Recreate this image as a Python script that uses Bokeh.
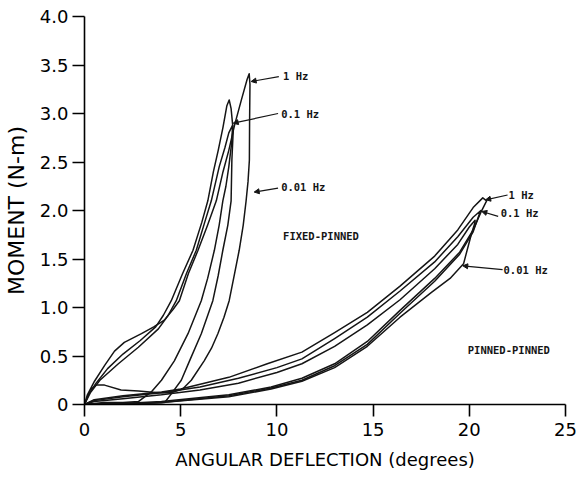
from bokeh.plotting import figure
from bokeh.models import Range1d, FixedTicker, ColumnDataSource, Arrow, NormalHead, PrintfTickFormatter
from bokeh.core.properties import value
from bokeh.embed import file_html
from bokeh.resources import INLINE

# ---- data ----
# Fixed-pinned, 1 Hz (loading, then unloading back to the origin)
fp1_x = [0, 0.15, 0.52, 1.04, 1.56, 2.07, 2.96, 3.6, 4.15, 4.6, 4.93, 5.4, 5.9, 6.4, 6.85, 7.2, 7.5, 7.8, 8.14, 8.45, 8.56,
         8.6, 8.58, 8.57, 8.5, 8.4, 8.25, 8.04, 7.8, 7.52, 7.25, 6.93, 6.6, 6.22, 5.55, 5.1, 4.5, 3.84, 2.8, 1.9,
         1.04, 0.6, 0.3, 0]
fp1_y = [0, 0.1, 0.24, 0.4, 0.55, 0.64, 0.73, 0.8, 0.87, 0.98, 1.07, 1.35, 1.59, 1.85, 2.1, 2.4, 2.62, 2.88, 3.13, 3.35, 3.41,
         3.3, 2.9, 2.52, 2.3, 2.1, 1.85, 1.59, 1.35, 1.07, 0.9, 0.73, 0.58, 0.45, 0.25, 0.16, 0.12, 0.12, 0.14, 0.15,
         0.2, 0.2, 0.15, 0]
# Fixed-pinned, 0.1 Hz
fp01_x = [0, 0.2, 0.6, 1.2, 2.0, 2.9, 3.7, 4.1, 4.51, 5.1, 5.64, 6.1, 6.41, 6.7, 6.95, 7.2, 7.4, 7.52,
          7.62, 7.73, 7.66, 7.62, 7.45, 7.19, 6.95, 6.67, 6.07, 5.46, 5.03, 4.51, 4.17, 3.0, 1.5, 0]
fp01_y = [0, 0.1, 0.22, 0.37, 0.52, 0.66, 0.8, 0.92, 1.07, 1.35, 1.59, 1.88, 2.1, 2.4, 2.62, 2.86, 3.08, 3.14,
          3.05, 2.82, 2.52, 2.1, 1.85, 1.59, 1.33, 1.07, 0.73, 0.45, 0.25, 0.11, 0.02, 0.01, 0.01, 0]
# Fixed-pinned, 0.01 Hz
fp001_x = [0, 0.3, 0.8, 1.76, 2.8, 3.84, 4.35, 4.77, 5.3, 5.81, 6.25, 6.59, 7.0, 7.3, 7.5, 7.7,
           7.65, 7.5, 7.35, 7.19, 7.0, 6.75, 6.4, 6.07, 5.38, 4.67, 4.0, 3.47, 2.8, 2.0, 1.0, 0]
fp001_y = [0, 0.12, 0.25, 0.42, 0.59, 0.78, 0.92, 1.07, 1.35, 1.59, 1.88, 2.1, 2.45, 2.65, 2.8, 2.88,
           2.7, 2.45, 2.25, 2.1, 1.85, 1.59, 1.3, 1.07, 0.73, 0.45, 0.25, 0.13, 0.03, 0.02, 0.02, 0]
# Pinned-pinned, 1 Hz
pp1_x = [0, 0.5, 2.0, 4.0, 5.0, 7.5, 9.5, 11.3, 13.0, 14.7, 16.4, 18.2, 19.4, 20.2, 20.7,
         20.9, 20.6, 20.2, 19.5, 18.2, 16.4, 14.7, 13.0, 11.3, 9.7, 7.5, 4.0, 2.0, 0]
pp1_y = [0, 0.05, 0.09, 0.13, 0.16, 0.28, 0.42, 0.54, 0.74, 0.95, 1.22, 1.53, 1.8, 2.03, 2.13,
         2.1, 1.98, 1.8, 1.57, 1.3, 0.97, 0.65, 0.42, 0.27, 0.18, 0.1, 0.03, 0.01, 0]
# Pinned-pinned, 0.1 Hz
pp01_x = [0, 0.5, 2.0, 4.0, 6.0, 8.0, 10.0, 11.3, 13.0, 14.7, 16.4, 18.2, 19.4, 20.2, 20.6,
          20.5, 20.2, 19.5, 18.2, 16.4, 14.7, 13.0, 11.3, 9.7, 7.5, 4.0, 0]
pp01_y = [0, 0.04, 0.08, 0.12, 0.18, 0.27, 0.38, 0.47, 0.68, 0.9, 1.17, 1.47, 1.73, 1.93, 2.0,
          1.95, 1.78, 1.55, 1.27, 0.94, 0.62, 0.4, 0.25, 0.17, 0.09, 0.02, 0]
# Pinned-pinned, 0.01 Hz
pp001_x = [0, 0.5, 2.0, 4.0, 6.0, 8.0, 10.0, 11.3, 13.0, 14.7, 16.4, 18.2, 19.4, 20.0, 20.3,
           20.3, 20.1, 19.7, 19.0, 18.0, 16.4, 14.7, 13.0, 11.3, 9.7, 7.5, 4.0, 0]
pp001_y = [0, 0.03, 0.06, 0.1, 0.15, 0.22, 0.33, 0.42, 0.6, 0.82, 1.08, 1.4, 1.65, 1.83, 1.9,
           1.88, 1.75, 1.45, 1.3, 1.15, 0.9, 0.6, 0.38, 0.24, 0.16, 0.08, 0.02, 0]

# annotation texts
label_text = ["1 Hz", "0.1 Hz", "0.01 Hz", "FIXED-PINNED", "1 Hz", "0.1 Hz", "0.01 Hz", "PINNED-PINNED"]
label_x = [10.32, 10.22, 10.22, 10.32, 22.04, 21.63, 21.78, 19.92]
label_y = [3.39, 3.0, 2.24, 1.74, 2.16, 1.97, 1.39, 0.56]

# leader arrows: start (near text) -> end (on curve)
arrow_x0 = [10.1, 10.06, 10.06, 21.99, 21.5, 21.73]
arrow_y0 = [3.38, 3.0, 2.23, 2.16, 1.94, 1.39]
arrow_x1 = [8.66, 7.73, 8.82, 20.85, 20.65, 19.66]
arrow_y1 = [3.33, 2.9, 2.19, 2.11, 1.99, 1.43]

x_ticks = [0, 5, 10, 15, 20, 25]
y_ticks = [0, 0.5, 1.0, 1.5, 2.0, 2.5, 3.0, 3.5, 4.0]

# ---- figure ----
p = figure(width=578, height=476, output_backend="svg", toolbar_location=None,
           x_range=Range1d(0, 25), y_range=Range1d(0, 4.0))
p.min_border_left = 83
p.min_border_right = 13
p.min_border_top = 16
p.min_border_bottom = 72
p.outline_line_color = None
p.background_fill_color = "white"
p.border_fill_color = "white"
p.xgrid.visible = False
p.ygrid.visible = False

ink = "#151515"
for xs, ys in [(fp1_x, fp1_y), (fp01_x, fp01_y), (fp001_x, fp001_y),
               (pp1_x, pp1_y), (pp01_x, pp01_y), (pp001_x, pp001_y)]:
    p.line(xs, ys, line_color=ink, line_width=1.5, line_join="round")

p.text(x=label_x, y=label_y, text=label_text, text_font=value("DejaVu Sans Mono"),
       text_font_style="bold", text_font_size="10.5px", text_baseline="middle",
       text_align="left", text_color=ink)

asrc = ColumnDataSource(dict(x0=arrow_x0, y0=arrow_y0, x1=arrow_x1, y1=arrow_y1))
p.add_layout(Arrow(source=asrc, x_start="x0", y_start="y0", x_end="x1", y_end="y1",
                   line_color=ink, line_width=1.2,
                   end=NormalHead(size=5, fill_color=ink, line_color=ink)))

for ax in (p.xaxis[0], p.yaxis[0]):
    ax.axis_line_color = "black"
    ax.axis_line_width = 1.6
    ax.major_tick_line_color = "black"
    ax.major_tick_line_width = 1.6
    ax.major_tick_out = 12
    ax.major_tick_in = 0
    ax.minor_tick_line_color = None
    ax.major_label_text_font = "DejaVu Sans"
    ax.major_label_text_font_size = "18px"
    ax.major_label_text_color = "black"
    ax.axis_label_text_font = "DejaVu Sans"
    ax.axis_label_text_font_style = "normal"
    ax.axis_label_text_color = "black"

p.xaxis[0].ticker = FixedTicker(ticks=x_ticks)
p.yaxis[0].ticker = FixedTicker(ticks=y_ticks)
p.yaxis[0].formatter = PrintfTickFormatter(format="%.1f")
p.yaxis[0].major_label_overrides = {0: "0"}
p.xaxis[0].axis_label = "ANGULAR DEFLECTION (degrees)"
p.yaxis[0].axis_label = "MOMENT (N-m)"
p.xaxis[0].axis_label_text_font_size = "18px"
p.yaxis[0].axis_label_text_font_size = "22px"
p.xaxis[0].major_label_standoff = 6
p.yaxis[0].major_label_standoff = 4
p.xaxis[0].axis_label_standoff = 10
p.yaxis[0].axis_label_standoff = 8

open("out.html", "w").write(file_html(p, INLINE))
